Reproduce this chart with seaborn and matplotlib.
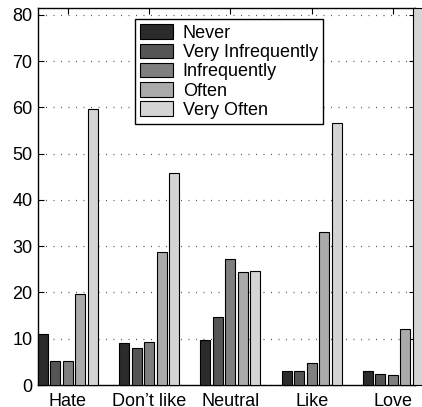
import matplotlib
matplotlib.use("Agg")
import matplotlib.pyplot as plt
import matplotlib.patches as mpatches
import seaborn as sns
import pandas as pd

plt.rcParams['font.family'] = ['Liberation Sans', 'DejaVu Sans']
plt.rcParams['font.size'] = 13

groups = ["Hate", "Don\u2019t like", "Neutral", "Like", "Love"]
freqs = ["Never", "Very Infrequently", "Infrequently", "Often", "Very Often"]
never = [11.1, 9.0, 9.7, 3.1, 3.1]
very_infrequently = [5.1, 8.1, 14.7, 3.1, 2.4]
infrequently = [5.1, 9.4, 27.3, 4.7, 2.1]
often = [19.7, 28.7, 24.4, 33.0, 12.1]
very_often = [59.7, 45.9, 24.7, 56.6, 81.5]
colors = ["#2b2b2b", "#555555", "#7f7f7f", "#aaaaaa", "#d4d4d4"]

series = [never, very_infrequently, infrequently, often, very_often]
rows = []
for f, vals in zip(freqs, series):
    for g, v in zip(groups, vals):
        rows.append({"group": g, "freq": f, "value": v})
df = pd.DataFrame(rows)

fig = plt.figure(figsize=(4.22, 4.07), dpi=100)
ax = fig.add_axes([38 / 422, 22 / 407, 377 / 422, 377 / 407])

sns.barplot(data=df, x="group", y="value", hue="freq", order=groups,
            hue_order=freqs, palette=colors, width=0.769, gap=0.2,
            edgecolor="black", linewidth=0.8, errorbar=None, legend=False,
            saturation=1, ax=ax, zorder=3)
# last bar runs past the frame like in the original
for p in ax.patches:
    p.set_clip_on(False)

ax.set_xlim(-0.369, 4.271)
ax.set_ylim(0, 81.5)
ax.set_yticks(range(0, 81, 10))
ax.set_xlabel("")
ax.set_ylabel("")
ax.yaxis.grid(True, color="#555555", linestyle=(0, (0.8, 5.2)), linewidth=0.9, zorder=0)
ax.set_axisbelow(True)
ax.tick_params(direction="in", length=4, width=0.8, top=True, right=True,
               labelsize=13, colors="black")
ax.tick_params(axis="x", pad=6)
ax.tick_params(axis="y", pad=4)
for s in ax.spines.values():
    s.set_linewidth(1.0)
    s.set_color("black")

handles = [mpatches.Patch(facecolor=c, edgecolor="black", linewidth=0.8, label=f)
           for c, f in zip(colors, freqs)]
leg = ax.legend(handles=handles, loc="upper left",
                bbox_to_anchor=(135 / 422, 1 - 19 / 407),
                bbox_transform=fig.transFigure, borderaxespad=0,
                fontsize=13, frameon=True, fancybox=False, shadow=False,
                framealpha=1, edgecolor="black", handlelength=1.8,
                handleheight=0.85, handletextpad=0.55, labelspacing=0.1,
                borderpad=0.3)
leg.get_frame().set_linewidth(1.0)
leg.set_zorder(5)

fig.savefig("out.png", dpi=100)
